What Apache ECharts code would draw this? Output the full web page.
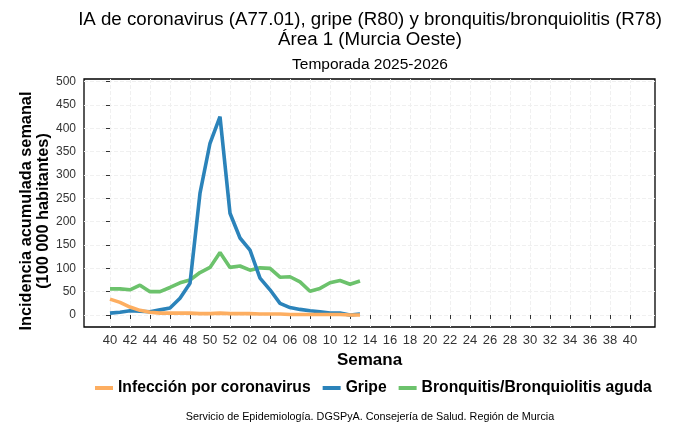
<!DOCTYPE html>
<html><head><meta charset="utf-8">
<script src="https://cdn.jsdelivr.net/npm/echarts@6/dist/echarts.min.js"></script>
<style>html,body{margin:0;padding:0;background:#fff}#c{width:676px;height:426px}</style>
</head><body><div id="c"></div>
<script>
// Week labels (x axis categories, season 2025-2026)
const weeks = ['40','41','42','43','44','45','46','47','48','49','50','51','52',
  '01','02','03','04','05','06','07','08','09','10','11','12','13','14','15','16','17','18','19','20',
  '21','22','23','24','25','26','27','28','29','30','31','32','33','34','35','36','37','38','39','40'];
const xTickIdx = [0,2,4,6,8,10,12,14,16,18,20,22,24,26,28,30,32,34,36,38,40,42,44,46,48,50,52];
const yTicks = [0,50,100,150,200,250,300,350,400,450,500];

const coronavirus = [34,27,17,10,6,4,4,4,4,3,3,4,3,3,3,2,2,2,1,1,1,1,1,1,0,0];
const gripe = [4,6,9,8,7,11,15,36,68,261,368,425,218,165,139,79,54,25,16,12,9,7,4,4,0,2];
const bronquitis = [56,56,54,64,50,50,59,69,75,91,102,134,102,105,96,101,100,81,82,71,51,57,69,74,66,73];

const seriesNames = ['Infección por coronavirus','Gripe','Bronquitis/Bronquiolitis aguda'];
const colors = ['#FDAE61','#2B83BA','#6CC26C'];
const toPairs = arr => arr.map((v,i)=>[i,v]);

const chart = echarts.init(document.getElementById('c'), null, {renderer:'canvas'});
const font = 'Liberation Sans, Arial, sans-serif';
chart.setOption({
  animation:false,
  textStyle:{fontFamily:font},
  title:[
    {text:'IA de coronavirus (A77.01), gripe (R80) y bronquitis/bronquiolitis (R78)\nÁrea 1 (Murcia Oeste)',
     left:365, top:5, textAlign:'center',
     textStyle:{fontSize:18.7, fontWeight:'normal', color:'#000', lineHeight:20, fontFamily:font}},
    {text:'Temporada 2025-2026', left:365, top:52, textAlign:'center',
     textStyle:{fontSize:15.5, fontWeight:'normal', color:'#000', fontFamily:font}},
    {text:'Servicio de Epidemiología. DGSPyA. Consejería de Salud. Región de Murcia',
     left:365, top:407, textAlign:'center',
     textStyle:{fontSize:10.8, fontWeight:'normal', color:'#000', fontFamily:font}}
  ],
  legend:{
    data:seriesNames, left:90, top:375, icon:'rect', itemWidth:18, itemHeight:4, itemGap:12,
    textStyle:{fontSize:15.7, fontWeight:'bold', color:'#000', fontFamily:font}
  },
  grid:{left:84, right:21, top:79, bottom:99, show:true, borderColor:'#000', borderWidth:1.3, containLabel:false},
  xAxis:{
    type:'value', min:-2.6, max:54.5,
    name:'Semana', nameLocation:'middle', nameGap:25, nameMoveOverlap:false,
    nameTextStyle:{fontSize:17, fontWeight:'bold', color:'#000', fontFamily:font},
    axisLine:{show:false},
    axisTick:{show:true, customValues:xTickIdx, length:4, lineStyle:{color:'#333'}},
    axisLabel:{customValues:xTickIdx, formatter:v=>weeks[Math.round(v)], fontSize:13, color:'#333', margin:7, fontFamily:font},
    splitLine:{show:true, lineStyle:{color:'#f0f0f0', type:'dashed'}}
  },
  yAxis:{
    type:'value', min:-25.7, max:505.7,
    name:'Incidencia acumulada semanal\n(100 000 habitantes)', nameLocation:'middle', nameGap:32, nameMoveOverlap:false,
    nameTextStyle:{fontSize:16.3, fontWeight:'bold', color:'#000', lineHeight:17, fontFamily:font, padding:[0,16,0,0]},
    axisLine:{show:false},
    axisTick:{show:true, customValues:yTicks, length:4, lineStyle:{color:'#333'}},
    axisLabel:{customValues:yTicks, fontSize:12, color:'#333', margin:8, fontFamily:font},
    splitLine:{show:true, lineStyle:{color:'#f0f0f0', type:'dashed'}}
  },
  series:[coronavirus,gripe,bronquitis].map((d,k)=>({
    name:seriesNames[k], type:'line', data:toPairs(d), showSymbol:false, symbol:'none',
    lineStyle:{width:3.6, color:colors[k]}, itemStyle:{color:colors[k]}, z:3-k+2
  }))
});
</script></body></html>
